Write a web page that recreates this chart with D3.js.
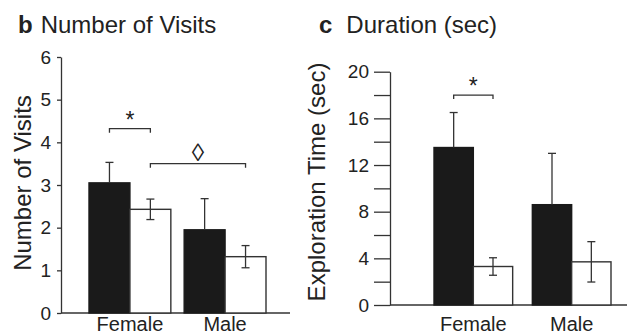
<!DOCTYPE html>
<html>
<head>
<meta charset="utf-8">
<script src="https://cdn.jsdelivr.net/npm/d3@7"></script>
<style>
  body { margin: 0; background: #fff; }
  text { font-family: "Liberation Sans", Arial, Helvetica, sans-serif; fill: #222; }
</style>
</head>
<body>
<div id="chart"></div>
<script>
// sizes of the whole picture
var width = 627;
var height = 334;

// categories
const groups = ["Female", "Male"];

// b: number of visits (black = first bar, white = second bar)
const visitsBlack = [3.05, 1.95];
const visitsBlackErr = [0.48, 0.73];
const visitsWhite = [2.43, 1.32];
const visitsWhiteErr = [0.24, 0.26];
const visitsTicks = [0, 1, 2, 3, 4, 5, 6];

// c: exploration time (sec)
const durBlack = [13.5, 8.6];
const durBlackErr = [3.0, 4.4];
const durWhite = [3.3, 3.7];
const durWhiteErr = [0.75, 1.73];
const durTicks = [0, 4, 8, 12, 16, 20];
const durMinorTicks = [2, 6, 10, 14, 18];

// significance marks: [group, bar] to [group, bar], height, symbol
const visitsSig = [
  { a: ["Female", 0], b: ["Female", 1], y: 4.32, mark: "*" },
  { a: ["Female", 1], b: ["Male", 1], y: 3.5, mark: "\u25CA" }
];
const durSig = [
  { a: ["Female", 0], b: ["Female", 1], y: 18.0, mark: "*" }
];

const svg = d3.select("#chart")
  .append("svg")
  .attr("width", width)
  .attr("height", height);

function drawPanel(opt) {
  const g = svg.append("g");

  const y = d3.scaleLinear().domain(opt.yDomain).range([opt.yBottom, opt.yTop]);
  const x = d3.scaleBand().domain(groups).range(opt.barRange).paddingInner(opt.pad);
  const sub = d3.scaleBand().domain([0, 1]).range([0, x.bandwidth()]);

  // minor ticks first (no labels)
  if (opt.minor) {
    g.append("g")
      .attr("transform", "translate(" + opt.axisX + ",0)")
      .call(d3.axisLeft(y).tickValues(opt.minor).tickSize(opt.tickLen).tickFormat(""))
      .call(a => a.select(".domain").remove())
      .selectAll("line").attr("stroke", "#333").attr("stroke-width", 1.3);
  }

  const ax = g.append("g")
    .attr("transform", "translate(" + opt.axisX + ",0)")
    .call(d3.axisLeft(y).tickValues(opt.ticks).tickSize(opt.tickLen).tickSizeOuter(0)
      .tickPadding(opt.tickPad).tickFormat(d3.format("d")));
  ax.select(".domain").attr("stroke", "#333").attr("stroke-width", 1.3);
  ax.selectAll("line").attr("stroke", "#333").attr("stroke-width", 1.3);
  ax.selectAll("text")
    .style("font-size", "19px")
    .style("font-family", "'Liberation Sans', Arial, sans-serif")
    .attr("fill", "#222");

  // baseline
  g.append("line")
    .attr("x1", opt.axisX).attr("x2", opt.xEnd)
    .attr("y1", y(0)).attr("y2", y(0))
    .attr("stroke", "#333").attr("stroke-width", 1.3);

  const rows = groups.map((k, i) => [
    { g: k, s: 0, v: opt.black[i], e: opt.blackErr[i] },
    { g: k, s: 1, v: opt.white[i], e: opt.whiteErr[i] }
  ]).flat();

  const bx = d => x(d.g) + sub(d.s);
  const cx = d => x(d.g) + sub(d.s) + sub.bandwidth() / 2;

  g.selectAll("rect.bar")
    .data(rows)
    .enter()
    .append("rect")
    .attr("class", "bar")
    .attr("x", bx)
    .attr("y", d => y(d.v))
    .attr("width", sub.bandwidth())
    .attr("height", d => y(0) - y(d.v))
    .attr("fill", d => d.s === 0 ? "#1a1a1a" : "#fff")
    .attr("stroke", d => d.s === 0 ? "#1a1a1a" : "#333")
    .attr("stroke-width", 1.4);

  // error bars: black only upward, white both ways
  const eb = g.selectAll("g.err").data(rows).enter().append("g").attr("class", "err")
    .attr("stroke", "#333").attr("stroke-width", 1.3);
  eb.append("line")
    .attr("x1", cx).attr("x2", cx)
    .attr("y1", d => d.s === 0 ? y(d.v) : y(d.v - d.e))
    .attr("y2", d => y(d.v + d.e));
  eb.append("line")
    .attr("x1", d => cx(d) - 4).attr("x2", d => cx(d) + 4)
    .attr("y1", d => y(d.v + d.e)).attr("y2", d => y(d.v + d.e));
  eb.filter(d => d.s === 1).append("line")
    .attr("x1", d => cx(d) - 4).attr("x2", d => cx(d) + 4)
    .attr("y1", d => y(d.v - d.e)).attr("y2", d => y(d.v - d.e));

  // significance brackets
  const pos = p => x(p[0]) + sub(p[1]) + sub.bandwidth() / 2;
  const br = g.selectAll("g.sig").data(opt.sig).enter().append("g").attr("class", "sig");
  br.append("path")
    .attr("d", d => "M" + pos(d.a) + "," + (y(d.y) + 4) + "V" + y(d.y) + "H" + pos(d.b) + "V" + (y(d.y) + 4))
    .attr("fill", "none").attr("stroke", "#333").attr("stroke-width", 1.3);
  br.append("text")
    .attr("x", d => (pos(d.a) + pos(d.b)) / 2)
    .attr("y", d => d.mark === "*" ? y(d.y) - 1 : y(d.y) - 3)
    .attr("text-anchor", "middle")
    .style("font-size", d => d.mark === "*" ? "23px" : "25px")
    .text(d => d.mark);

  // category labels
  g.selectAll("text.cat")
    .data(groups)
    .enter()
    .append("text")
    .attr("class", "cat")
    .attr("x", d => x(d) + x.bandwidth() / 2)
    .attr("y", opt.catY)
    .attr("text-anchor", "middle")
    .style("font-size", "20px")
    .text(d => d);

  // y axis title
  g.append("text")
    .attr("transform", "translate(" + opt.yLabelX + "," + opt.yLabelY + ") rotate(-90)")
    .attr("text-anchor", "middle")
    .style("font-size", "24px")
    .text(opt.yLabel);

  // panel title
  const t = g.append("text")
    .attr("x", opt.titleX)
    .attr("y", 33)
    .style("font-size", "24px");
  t.append("tspan").style("font-weight", "bold").text(opt.letter);
  t.append("tspan").attr("dx", opt.titleGap).text(opt.title);
}

drawPanel({
  letter: "b", title: "Number of Visits", titleX: 18, titleGap: 8,
  yLabel: "Number of Visits", yLabelX: 31, yLabelY: 183,
  yDomain: [0, 6], yBottom: 313, yTop: 57, ticks: visitsTicks, minor: null,
  tickLen: 4, tickPad: 6,
  axisX: 61, xEnd: 290, barRange: [89, 266], pad: 0.14, catY: 331,
  black: visitsBlack, blackErr: visitsBlackErr,
  white: visitsWhite, whiteErr: visitsWhiteErr,
  sig: visitsSig
});

drawPanel({
  letter: "c", title: "Duration (sec)", titleX: 319, titleGap: 14,
  yLabel: "Exploration Time (sec)", yLabelX: 325, yLabelY: 182,
  yDomain: [0, 20], yBottom: 305, yTop: 71.7, ticks: durTicks, minor: durMinorTicks,
  tickLen: 16, tickPad: 5,
  axisX: 390, xEnd: 627, barRange: [434, 611], pad: 0.2, catY: 331,
  black: durBlack, blackErr: durBlackErr,
  white: durWhite, whiteErr: durWhiteErr,
  sig: durSig
});
</script>
</body>
</html>
